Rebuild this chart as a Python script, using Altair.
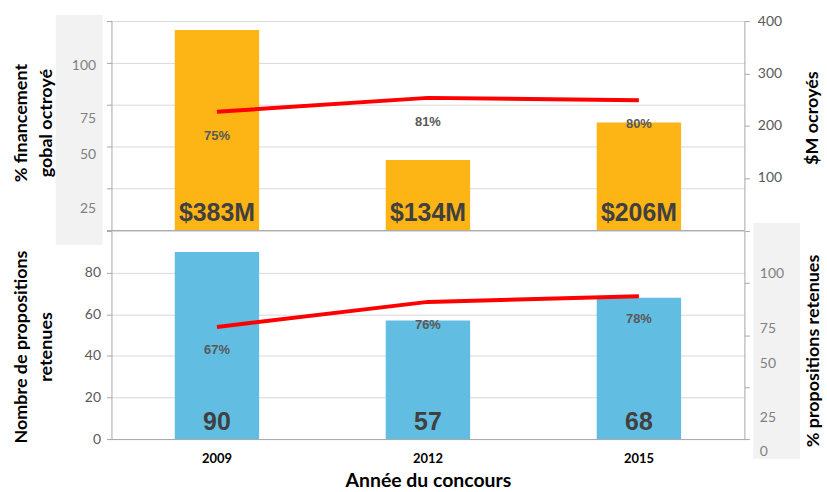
import altair as alt
import pandas as pd

# ---------------- data ----------------
years = ["2009", "2012", "2015"]
funding_musd = [383, 134, 206]
funding_labels = ["$383M", "$134M", "$206M"]
funding_pct = [75, 81, 80]
funding_pct_labels = ["75%", "81%", "80%"]
proposals = [90, 57, 68]
proposals_pct = [67, 76, 78]
proposals_pct_labels = ["67%", "76%", "78%"]

money_ticks = [100, 200, 300, 400]
money_grid = [0, 80, 160, 240, 320, 400]
count_ticks = [0, 20, 40, 60, 80, 100]
pct_ticks_left = [25, 50, 75, 100]
pct_ticks_right = [0, 25, 50, 75, 100]

# ---------------- style ----------------
W = 636
H_TOP = 210
H_BOT = 209
FONT = "Lato"
NUM_FONT = "Liberation Sans"
ORANGE = "#FDB415"
BLUE = "#62BDE2"
RED = "#FF0000"
GRID = "#D9D9D9"
AXIS = "#A6A6A6"
BOX = "#F2F2F2"
DARK = "#404040"
LAB = "#595959"
FAKE = "#808080"
TITLE_SIZE = 18

top_df = pd.DataFrame({"year": years, "value": funding_musd, "label": funding_labels,
                       "pct": funding_pct, "pct_label": funding_pct_labels})
bot_df = pd.DataFrame({"year": years, "value": proposals, "label": proposals,
                       "pct": proposals_pct, "pct_label": proposals_pct_labels})
one = pd.DataFrame({"k": [0]})

xscale = alt.Scale(paddingInner=0.6, paddingOuter=0.3)
x_top = alt.X("year:N", scale=xscale, sort=years,
              axis=alt.Axis(labels=False, ticks=False, title=None,
                            domainColor=AXIS))
x_bot = alt.X("year:N", scale=xscale, sort=years,
              axis=alt.Axis(labelFont=FONT, labelFontWeight="bold", labelFontSize=13,
                            labelColor="black", labelAngle=0, labelPadding=14,
                            ticks=False, domainColor=AXIS,
                            title="Année du concours", titleFont=FONT,
                            titleFontSize=19.5, titleFontWeight="bold",
                            titleColor="black", titlePadding=6))

# ---------------- top panel ----------------
base_t = alt.Chart(top_df)

box_left = alt.Chart(one).mark_rect(color=BOX).encode(
    x=alt.value(-56), x2=alt.value(-9), y=alt.value(-6), y2=alt.value(225))

bars_t = base_t.mark_bar(color=ORANGE).encode(
    x=x_top,
    y=alt.Y("value:Q", scale=alt.Scale(domain=[0, 400], nice=False),
            axis=alt.Axis(orient="right", values=money_ticks, grid=False,
                          ticks=True, tickSize=5, tickColor=AXIS, domainColor=AXIS,
                          labelFont=FONT, labelFontSize=14, labelColor=LAB,
                          labelPadding=8, title="$M ocroyés", titleFont=FONT,
                          titleFontSize=TITLE_SIZE, titleFontWeight="bold",
                          titleColor="black", titleAngle=270, titleX=77,
                          titleY=97, titleBaseline="bottom", titleAlign="center")))

vals_t = base_t.mark_text(font=NUM_FONT, fontSize=25, fontWeight="bold",
                          color=DARK, baseline="alphabetic", dy=-9).encode(
    x=x_top,
    y=alt.YDatum(0, type="quantitative",
                 scale=alt.Scale(domain=[0, 400], nice=False),
                 axis=alt.Axis(orient="left", values=money_grid, grid=True,
                               gridColor=GRID, labels=False, ticks=True, tickSize=5,
                               tickColor=AXIS, domainColor=AXIS, title=None)),
    text="label:N")

line_scale_t = alt.Scale(domain=[24, 114.1], nice=False, zero=False)
line_t = base_t.mark_line(color=RED, strokeWidth=4).encode(
    x=x_top, y=alt.Y("pct:Q", scale=line_scale_t, axis=None))
pct_t = base_t.mark_text(font=NUM_FONT, fontSize=13, fontWeight="bold",
                         color=LAB, baseline="middle", dy=24).encode(
    x=x_top, y=alt.Y("pct:Q", scale=line_scale_t, axis=None), text="pct_label:N")

axis_t = base_t.mark_point(opacity=0).encode(
    x=x_top,
    y=alt.Y("pct:Q",
            scale=alt.Scale(domain=pct_ticks_left, range=[188, 134, 98, 45],
                            nice=False, zero=False),
            axis=alt.Axis(orient="left", values=pct_ticks_left, grid=False,
                          ticks=False, tickSize=0, domain=False, labelFont=FONT,
                          labelFontSize=14, labelColor=FAKE, labelPadding=16,
                          title=["% financement", "gobal octroyé"], titleFont=FONT,
                          titleFontSize=TITLE_SIZE, titleFontWeight="bold",
                          titleColor="black", titleAngle=270, titleX=-81,
                          titleY=102, titleBaseline="bottom", titleAlign="center",
                          titleLineHeight=25, zindex=1)))

top = alt.layer(box_left, bars_t, vals_t, line_t, pct_t, axis_t).resolve_scale(
    y="independent").properties(width=W, height=H_TOP)

# ---------------- bottom panel ----------------
base_b = alt.Chart(bot_df)

box_right = alt.Chart(one).mark_rect(color=BOX).encode(
    x=alt.value(W + 9), x2=alt.value(W + 56), y=alt.value(-8), y2=alt.value(229))

bars_b = base_b.mark_bar(color=BLUE).encode(
    x=x_bot,
    y=alt.Y("value:Q", scale=alt.Scale(domain=[0, 100], nice=False),
            axis=alt.Axis(orient="left", values=count_ticks, grid=True,
                          gridColor=GRID, ticks=True, tickSize=5, tickColor=AXIS,
                          domainColor=AXIS, labelFont=FONT, labelFontSize=14,
                          labelColor=LAB, labelPadding=6,
                          labelExpr="datum.value == 100 ? '' : datum.label",
                          title=["Nombre de propositions", "retenues"],
                          titleFont=FONT, titleFontSize=TITLE_SIZE,
                          titleFontWeight="bold",
                          titleColor="black", titleAngle=270, titleX=-81,
                          titleY=116, titleBaseline="bottom", titleAlign="center",
                          titleLineHeight=25)))

vals_b = base_b.mark_text(font=NUM_FONT, fontSize=25, fontWeight="bold",
                          color=DARK, baseline="alphabetic", dy=-9).encode(
    x=x_bot,
    y=alt.YDatum(0, type="quantitative",
                 scale=alt.Scale(domain=[0, 100], nice=False),
                 axis=alt.Axis(orient="right", values=pct_ticks_right, grid=False,
                               labels=False, ticks=True, tickSize=5, tickColor=AXIS,
                               domainColor=AXIS, title=None)),
    text="label:N")

line_scale_b = alt.Scale(domain=[26.8, 101.4], nice=False, zero=False)
line_b = base_b.mark_line(color=RED, strokeWidth=4).encode(
    x=x_bot, y=alt.Y("pct:Q", scale=line_scale_b, axis=None))
pct_b = base_b.mark_text(font=NUM_FONT, fontSize=13, fontWeight="bold",
                         color=LAB, baseline="middle", dy=23).encode(
    x=x_bot, y=alt.Y("pct:Q", scale=line_scale_b, axis=None), text="pct_label:N")

axis_b = base_b.mark_point(opacity=0).encode(
    x=x_bot,
    y=alt.Y("pct:Q",
            scale=alt.Scale(domain=pct_ticks_right, range=[222, 187, 133, 98, 43],
                            nice=False, zero=False),
            axis=alt.Axis(orient="right", values=pct_ticks_right, grid=False,
                          ticks=False, tickSize=0, domain=False, labelFont=FONT,
                          labelFontSize=14, labelColor=FAKE, labelPadding=15,
                          title="% propositions retenues", titleFont=FONT,
                          titleFontSize=TITLE_SIZE, titleFontWeight="bold",
                          titleColor="black", titleAngle=270, titleX=78,
                          titleY=120, titleBaseline="bottom", titleAlign="center",
                          zindex=1)))

bottom = alt.layer(box_right, bars_b, vals_b, line_b, pct_b, axis_b).resolve_scale(
    y="independent").properties(width=W, height=H_BOT)

chart = alt.vconcat(top, bottom, spacing=1, bounds="flush").properties(
    padding={"left": 13, "top": 13, "right": 5, "bottom": 2},
    background="white",
).configure_view(stroke=None)

chart.save("out.html", embed_options={"renderer": "svg", "actions": False})
